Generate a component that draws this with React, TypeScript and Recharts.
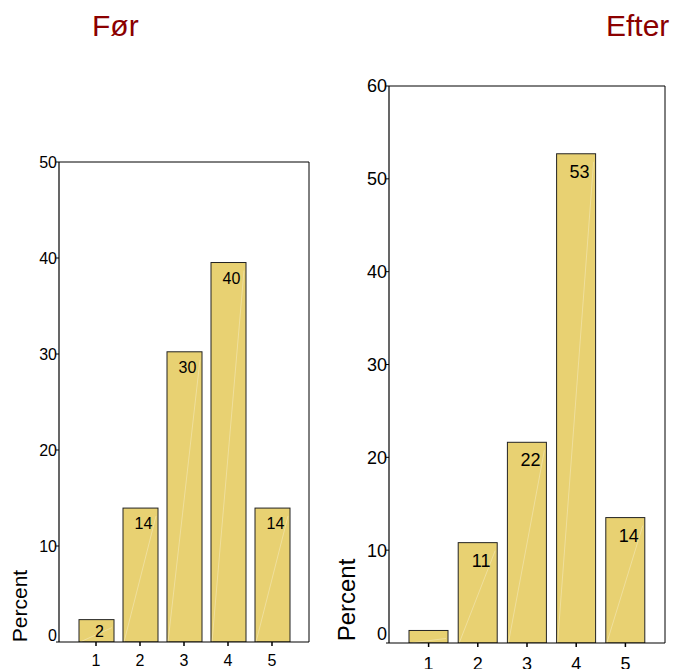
import { Bar, BarChart, LabelList, XAxis, YAxis } from "recharts"

// answer categories on the x axis, share of respondents (%) per category
const CATEGORIES = ["1", "2", "3", "4", "5"]
const BEFORE_PCT = [2.33, 13.95, 30.23, 39.53, 13.95]
const AFTER_PCT = [1.35, 10.81, 21.62, 52.7, 13.51]
const BEFORE_TICKS = [0, 10, 20, 30, 40, 50]
const AFTER_TICKS = [0, 10, 20, 30, 40, 50, 60]

const FONT = '"Liberation Sans", Arial, sans-serif'
const BAR_FILL = "#e8d172"
const BAR_EDGE = "#222222"
const TITLE_COLOR = "#8b0000"

type Row = { cat: string; pct: number }

const toRows = (values: number[]): Row[] =>
  CATEGORIES.map((cat, i) => ({ cat, pct: values[i] }))

function HazedBar(props: any) {
  const { x, y, width, height, fill } = props
  if (!width || !height) return null
  return (
    <g>
      <rect x={x} y={y} width={width} height={height} fill={fill} stroke={BAR_EDGE} strokeWidth={1} />
      <line
        x1={x + 1}
        y1={y + height}
        x2={x + width - 2}
        y2={y + Math.min(8, height)}
        stroke="#ffffff"
        strokeOpacity={0.3}
        strokeWidth={1}
      />
    </g>
  )
}

function makeBarLabel(fontSize: number, baselineGap: number, dx: number) {
  return (props: any) => {
    const { x, y, width, height, value } = props
    if (height < fontSize) return null
    const short = height < baselineGap + 6
    const baseY = short ? y + height / 2 + fontSize * 0.36 : y + baselineGap
    return (
      <text
        x={x + width / 2 + dx}
        y={baseY}
        textAnchor="middle"
        fontSize={fontSize}
        fontFamily={FONT}
        fill="#000"
      >
        {Math.round(value)}
      </text>
    )
  }
}

function makeYTick(fontSize: number, zeroLift: number) {
  return (props: any) => {
    const { x, y, payload } = props
    const lift = payload.value === 0 ? zeroLift : 0
    return (
      <text
        x={x + 3}
        y={y - lift}
        dy="0.36em"
        textAnchor="end"
        fontSize={fontSize}
        fontFamily={FONT}
        fill="#000"
      >
        {payload.value}
      </text>
    )
  }
}

function PercentLabel({ lx, ly, size }: { lx: number; ly: number; size: number }) {
  return (
    <text
      x={lx}
      y={ly}
      transform={`rotate(-90, ${lx}, ${ly})`}
      textAnchor="middle"
      fontSize={size}
      fontFamily={FONT}
      fill="#000"
    >
      Percent
    </text>
  )
}

type PanelProps = {
  values: number[]
  ticks: number[]
  width: number
  top: number
  right: number
  axisHeight: number
  barSize: number
  fontSize: number
  tickGap: number
  zeroLift: number
  labelGap: number
  labelDx: number
  percent: { lx: number; ly: number; size: number }
}

function Panel(p: PanelProps) {
  const max = p.ticks[p.ticks.length - 1]
  return (
    <BarChart
      width={p.width}
      height={669}
      data={toRows(p.values)}
      margin={{ top: p.top - 1, right: p.right - 1, bottom: 0, left: 0 }}
      barSize={p.barSize}
    >
      <XAxis
        dataKey="cat"
        interval={0}
        height={p.axisHeight}
        padding={{ left: 15, right: 15 }}
        axisLine={{ stroke: "#000", strokeWidth: 1.2 }}
        tickLine={{ stroke: "#000", strokeWidth: 1.5 }}
        tickSize={4}
        tickMargin={p.tickGap}
        tick={{ fontSize: p.fontSize, fill: "#000", fontFamily: FONT }}
      />
      {/* top and right edges of the plot frame */}
      <XAxis
        xAxisId="top"
        dataKey="cat"
        orientation="top"
        height={1}
        tick={false}
        tickLine={false}
        axisLine={{ stroke: "#000", strokeWidth: 1 }}
      />
      <YAxis
        domain={[0, max]}
        ticks={p.ticks}
        width={59}
        allowDataOverflow
        axisLine={{ stroke: "#000", strokeWidth: 1.2 }}
        tickLine={{ stroke: "#000" }}
        tickSize={3}
        tick={makeYTick(p.fontSize, p.zeroLift)}
        label={<PercentLabel lx={p.percent.lx} ly={p.percent.ly} size={p.percent.size} />}
      />
      <YAxis
        yAxisId="right"
        orientation="right"
        domain={[0, max]}
        width={1}
        tick={false}
        tickLine={false}
        axisLine={{ stroke: "#000", strokeWidth: 1 }}
      />
      <Bar dataKey="pct" fill={BAR_FILL} shape={HazedBar} isAnimationActive={false}>
        <LabelList dataKey="pct" content={makeBarLabel(p.fontSize, p.labelGap, p.labelDx)} />
      </Bar>
    </BarChart>
  )
}

const titleStyle = {
  position: "absolute" as const,
  top: 11,
  fontFamily: FONT,
  fontSize: 30,
  lineHeight: "30px",
  color: TITLE_COLOR,
}

export default function App() {
  return (
    <div
      style={{
        position: "fixed",
        top: 0,
        left: 0,
        width: 673,
        height: 669,
        background: "#fff",
        overflow: "hidden",
      }}
    >
      <div style={{ ...titleStyle, left: 92 }}>Før</div>
      <div style={{ ...titleStyle, left: 606 }}>Efter</div>

      <div style={{ position: "absolute", left: 0, top: 0 }}>
        <Panel
          values={BEFORE_PCT}
          ticks={BEFORE_TICKS}
          width={330}
          top={162}
          right={21}
          axisHeight={27}
          barSize={35}
          fontSize={16}
          tickGap={9}
          zeroLift={7}
          labelGap={21}
          labelDx={3}
          percent={{ lx: 27, ly: 606, size: 21 }}
        />
      </div>

      <div style={{ position: "absolute", left: 330, top: 0 }}>
        <Panel
          values={AFTER_PCT}
          ticks={AFTER_TICKS}
          width={343}
          top={86}
          right={8}
          axisHeight={26}
          barSize={39}
          fontSize={18}
          tickGap={10}
          zeroLift={9}
          labelGap={24}
          labelDx={3.5}
          percent={{ lx: 25, ly: 600, size: 24 }}
        />
      </div>
    </div>
  )
}
